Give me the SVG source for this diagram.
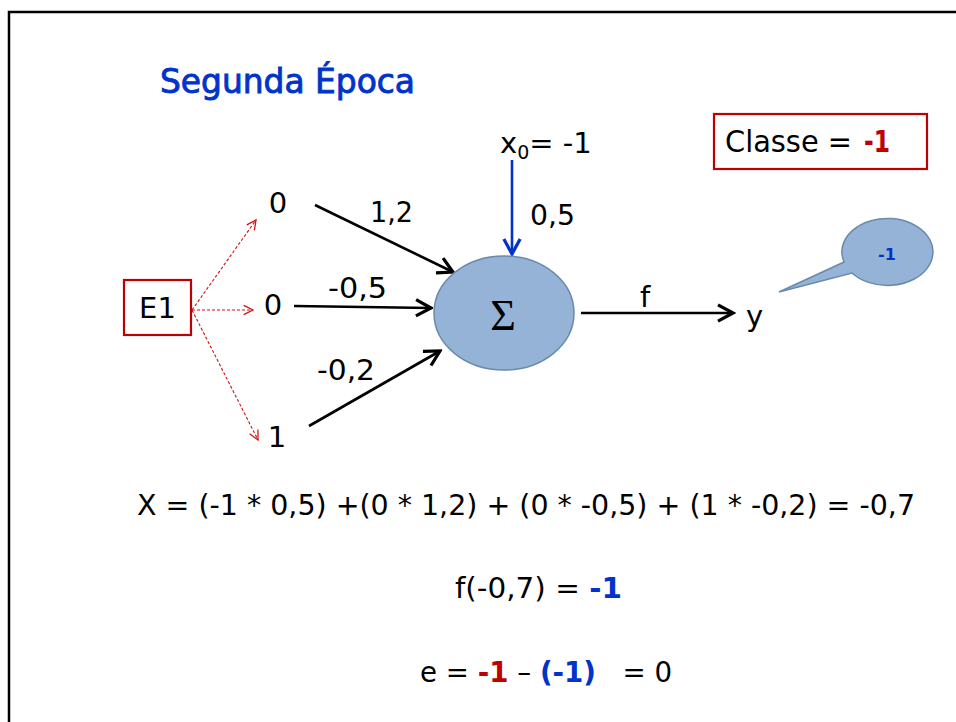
<svg xmlns="http://www.w3.org/2000/svg" width="956" height="722" viewBox="0 0 956 722">
<defs>
<style>
.t{font-family:"DejaVu Sans","Liberation Sans",sans-serif;fill:#000;}
.lbl{font-size:29px;}
.red{fill:#c00000;font-weight:bold;}
.blue{fill:#0033cc;font-weight:bold;}
.blk{stroke:#000;stroke-width:2.6;fill:none;}
.rd{stroke:#d01010;stroke-width:1.1;stroke-dasharray:3,2;fill:none;}
</style>
<marker id="ab" markerUnits="userSpaceOnUse" markerWidth="20" markerHeight="20" viewBox="-14 -8 16 16" refX="0" refY="0" orient="auto">
<polyline points="-12,-6.5 0,0 -12,6.5" fill="none" stroke="#000" stroke-width="2.6"/>
</marker>
<marker id="ablue" markerUnits="userSpaceOnUse" markerWidth="20" markerHeight="20" viewBox="-14 -8 16 16" refX="0" refY="0" orient="auto">
<polyline points="-12,-6.5 0,0 -12,6.5" fill="none" stroke="#0033cc" stroke-width="2.6"/>
</marker>
<marker id="ar" markerUnits="userSpaceOnUse" markerWidth="14" markerHeight="14" viewBox="-10 -6 12 12" refX="0" refY="0" orient="auto">
<polyline points="-8,-4 0,0 -8,4" fill="none" stroke="#d01010" stroke-width="1.1"/>
</marker>
</defs>
<rect width="956" height="722" fill="#fff"/>
<path d="M9,722 V12 H956" fill="none" stroke="#000" stroke-width="2.5"/>

<text x="160" y="93" font-family="'Comic Sans MS','DejaVu Sans',sans-serif" font-size="33" fill="#0033cc" stroke="#0033cc" stroke-width="0.9" textLength="255" lengthAdjust="spacingAndGlyphs">Segunda Época</text>

<g id="connectors">
<line class="rd" x1="192" y1="310" x2="256" y2="220" marker-end="url(#ar)"/>
<line class="rd" x1="192" y1="310" x2="253" y2="310" marker-end="url(#ar)"/>
<line class="rd" x1="192" y1="310" x2="258" y2="440" marker-end="url(#ar)"/>
<line class="blk" x1="315" y1="205" x2="453" y2="272" marker-end="url(#ab)"/>
<line class="blk" x1="294" y1="306" x2="431" y2="308" marker-end="url(#ab)"/>
<line class="blk" x1="309" y1="426" x2="440" y2="351" marker-end="url(#ab)"/>
<line x1="512" y1="160" x2="512" y2="254" stroke="#0033cc" stroke-width="2.6" marker-end="url(#ablue)"/>
<line class="blk" x1="581" y1="313" x2="733" y2="313" marker-end="url(#ab)"/>
<text class="t lbl" x="370" y="222" textLength="43" lengthAdjust="spacingAndGlyphs">1,2</text>
<text class="t lbl" x="328" y="298" textLength="59" lengthAdjust="spacingAndGlyphs">-0,5</text>
<text class="t lbl" x="317" y="380" textLength="58" lengthAdjust="spacingAndGlyphs">-0,2</text>
<text class="t lbl" x="530" y="225" textLength="45" lengthAdjust="spacingAndGlyphs">0,5</text>
<text class="t lbl" x="640" y="307">f</text>
</g>

<g id="E1">
<rect x="124" y="280" width="67" height="55" fill="#fff" stroke="#c00000" stroke-width="2.2"/>
<text class="t lbl" x="157.5" y="318" text-anchor="middle">E1</text>
</g>

<g id="in1"><text class="t lbl" x="278" y="213" text-anchor="middle">0</text></g>
<g id="in2"><text class="t lbl" x="273" y="315" text-anchor="middle">0</text></g>
<g id="in3"><text class="t lbl" x="277" y="447" text-anchor="middle">1</text></g>

<g id="x0">
<text class="t lbl" x="500" y="153">x<tspan font-size="19" dy="6">0</tspan><tspan dy="-6">= -1</tspan></text>
</g>

<g id="sum">
<ellipse cx="504" cy="313" rx="70" ry="57" fill="#95b3d7" stroke="#6a8aaa" stroke-width="1.5"/>
<text x="503" y="330" font-family="'Liberation Serif',serif" font-size="44" text-anchor="middle">Σ</text>
</g>

<g id="y"><text class="t lbl" x="746" y="326">y</text></g>

<g id="classe">
<rect x="714" y="114" width="213" height="55" fill="#fff" stroke="#c00000" stroke-width="2.2"/>
<text class="t" x="725" y="152" font-size="30" textLength="127" lengthAdjust="spacingAndGlyphs">Classe =</text>
<text class="t red" x="864" y="152" font-size="30" textLength="26" lengthAdjust="spacingAndGlyphs">-1</text>
</g>

<g id="callout">
<path d="M779,292 L844,262 A45.5,33.5 0 1 1 852,273 Z" fill="#95b3d7" stroke="#6a8aaa" stroke-width="1.5"/>
<text class="t blue" x="887" y="260" font-size="16" text-anchor="middle">-1</text>
</g>

<g id="formulas">
<text class="t lbl" x="137" y="515" textLength="778" lengthAdjust="spacingAndGlyphs">X = (-1 * 0,5) +(0 * 1,2) + (0 * -0,5) + (1 * -0,2) = -0,7</text>
<text class="t lbl" x="455" y="598" textLength="167" lengthAdjust="spacingAndGlyphs">f(-0,7) = <tspan class="blue">-1</tspan></text>
<text class="t lbl" x="420" y="682" xml:space="preserve" textLength="252" lengthAdjust="spacingAndGlyphs">e = <tspan class="red">-1</tspan> – <tspan class="blue">(-1)</tspan>   = 0</text>
</g>
</svg>
